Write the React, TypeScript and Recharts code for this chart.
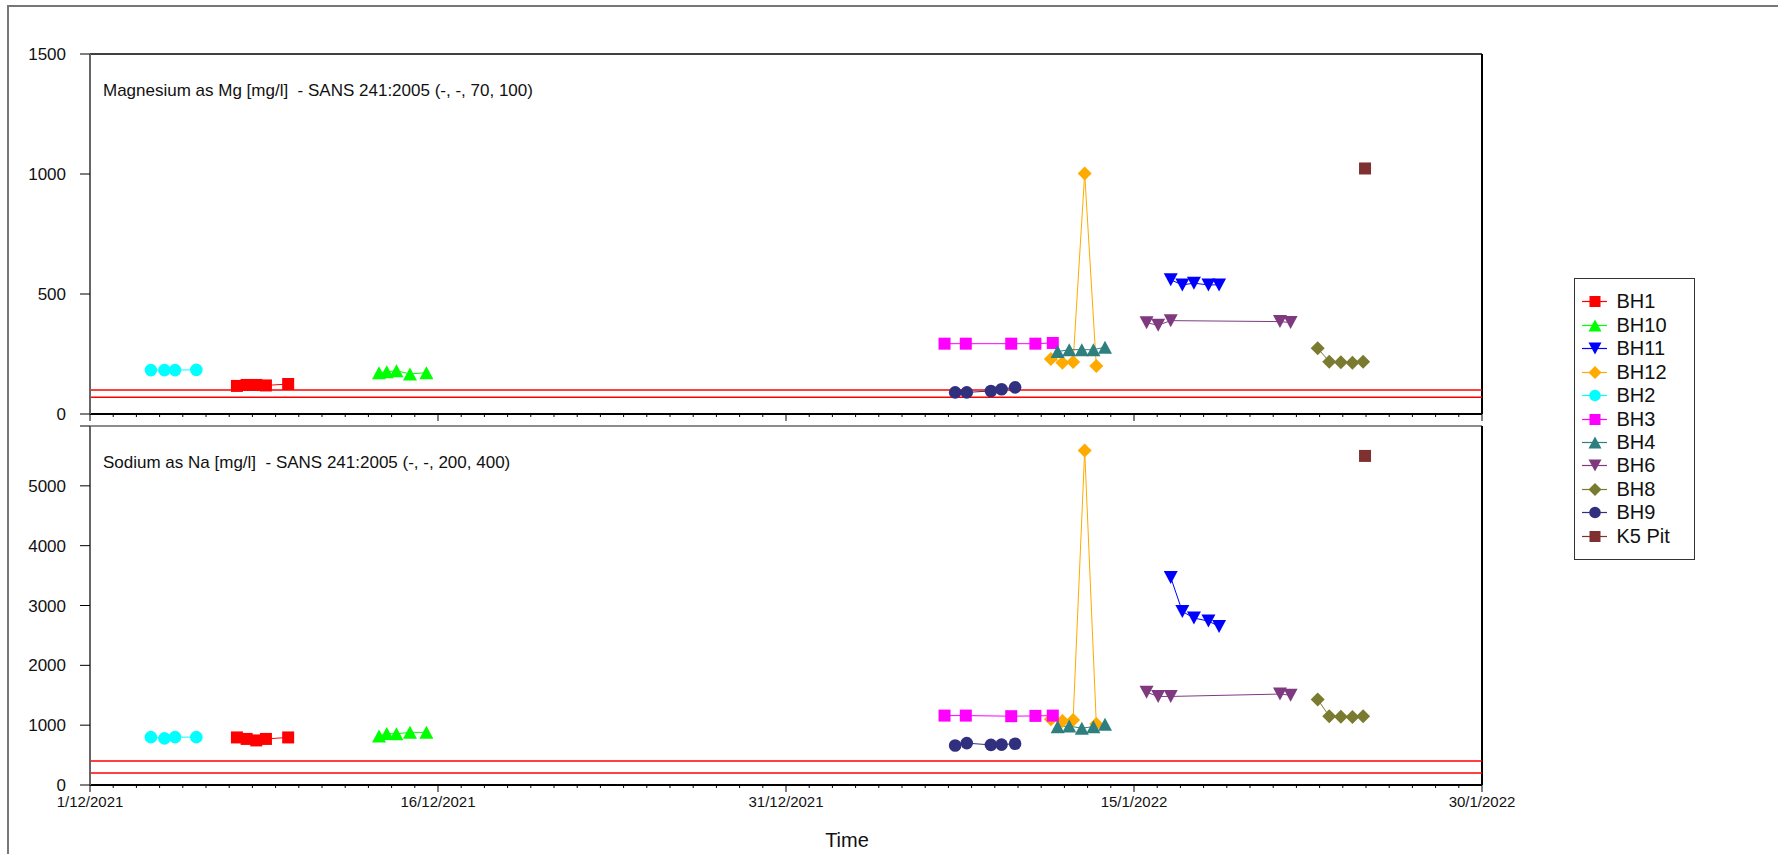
import { Line, LineChart, ReferenceLine, XAxis, YAxis } from "recharts";

// sample times (UTC) and readings per borehole
const BH1_DATES = ["2021-12-07T08:00", "2021-12-07T18:00", "2021-12-08T04:00", "2021-12-08T14:00", "2021-12-09T13:00"];
const BH1_MG = [117, 121, 121, 119, 125];
const BH1_NA = [795, 770, 745, 770, 795];

const BH10_DATES = ["2021-12-13T11:00", "2021-12-13T19:00", "2021-12-14T05:00", "2021-12-14T19:00", "2021-12-15T12:00"];
const BH10_MG = [172, 176, 180, 167, 172];
const BH10_NA = [820, 860, 855, 880, 880];

const BH11_DATES = ["2022-01-16T14:00", "2022-01-17T02:00", "2022-01-17T14:00", "2022-01-18T05:00", "2022-01-18T16:00"];
const BH11_MG = [559, 538, 545, 538, 538];
const BH11_NA = [3470, 2900, 2790, 2740, 2650];

const BH12_DATES = ["2022-01-11T10:00", "2022-01-11T22:00", "2022-01-12T09:00", "2022-01-12T21:00", "2022-01-13T09:00"];
const BH12_MG = [229, 214, 217, 1002, 200];
const BH12_NA = [1100, 1070, 1085, 5590, 1020];

const BH2_DATES = ["2021-12-03T15:00", "2021-12-04T05:00", "2021-12-04T16:00", "2021-12-05T14:00"];
const BH2_MG = [183, 183, 183, 184];
const BH2_NA = [800, 780, 800, 800];

const BH3_DATES = ["2022-01-06T20:00", "2022-01-07T18:00", "2022-01-09T17:00", "2022-01-10T18:00", "2022-01-11T12:00"];
const BH3_MG = [293, 293, 293, 293, 296];
const BH3_NA = [1160, 1160, 1150, 1155, 1160];

const BH4_DATES = ["2022-01-11T17:00", "2022-01-12T05:00", "2022-01-12T18:00", "2022-01-13T06:00", "2022-01-13T18:00"];
const BH4_MG = [260, 268, 268, 268, 278];
const BH4_NA = [975, 985, 950, 975, 1015];

const BH6_DATES = ["2022-01-15T13:00", "2022-01-16T01:00", "2022-01-16T14:00", "2022-01-21T07:00", "2022-01-21T18:00"];
const BH6_MG = [380, 370, 389, 385, 381];
const BH6_NA = [1550, 1480, 1480, 1520, 1500];

const BH8_DATES = ["2022-01-22T22:00", "2022-01-23T10:00", "2022-01-23T22:00", "2022-01-24T10:00", "2022-01-24T21:00"];
const BH8_MG = [274, 218, 216, 214, 218];
const BH8_NA = [1430, 1150, 1140, 1135, 1150];

const BH9_DATES = ["2022-01-07T07:00", "2022-01-07T19:00", "2022-01-08T20:00", "2022-01-09T07:00", "2022-01-09T21:00"];
const BH9_MG = [90, 90, 96, 103, 111];
const BH9_NA = [660, 700, 670, 675, 690];

const K5_DATES = ["2022-01-24T23:00"];
const K5_MG = [1023];
const K5_NA = [5500];

const X_TICK_DATES = ["2021-12-01T00:00", "2021-12-16T00:00", "2021-12-31T00:00", "2022-01-15T00:00", "2022-01-30T00:00"];
const X_TICK_LABELS = ["1/12/2021", "16/12/2021", "31/12/2021", "15/1/2022", "30/1/2022"];

const MG_TICKS = [0, 500, 1000, 1500];
const NA_TICKS = [0, 1000, 2000, 3000, 4000, 5000, 6000];
const MG_LIMITS = [0, 70, 100];
const NA_LIMITS = [0, 200, 400];

const MG_TITLE = "Magnesium as Mg [mg/l]  - SANS 241:2005 (-, -, 70, 100)";
const NA_TITLE = "Sodium as Na [mg/l]  - SANS 241:2005 (-, -, 200, 400)";

type Shape = "square" | "triangle" | "down" | "diamond" | "circle";

const SERIES: { name: string; color: string; shape: Shape; dates: string[]; mg: number[]; na: number[] }[] = [
  { name: "BH1", color: "#ff0000", shape: "square", dates: BH1_DATES, mg: BH1_MG, na: BH1_NA },
  { name: "BH10", color: "#00ff00", shape: "triangle", dates: BH10_DATES, mg: BH10_MG, na: BH10_NA },
  { name: "BH11", color: "#0000ff", shape: "down", dates: BH11_DATES, mg: BH11_MG, na: BH11_NA },
  { name: "BH12", color: "#ffaa00", shape: "diamond", dates: BH12_DATES, mg: BH12_MG, na: BH12_NA },
  { name: "BH2", color: "#00ffff", shape: "circle", dates: BH2_DATES, mg: BH2_MG, na: BH2_NA },
  { name: "BH3", color: "#ff00ff", shape: "square", dates: BH3_DATES, mg: BH3_MG, na: BH3_NA },
  { name: "BH4", color: "#2f7f7f", shape: "triangle", dates: BH4_DATES, mg: BH4_MG, na: BH4_NA },
  { name: "BH6", color: "#7f3a7f", shape: "down", dates: BH6_DATES, mg: BH6_MG, na: BH6_NA },
  { name: "BH8", color: "#7a7a30", shape: "diamond", dates: BH8_DATES, mg: BH8_MG, na: BH8_NA },
  { name: "BH9", color: "#30307f", shape: "circle", dates: BH9_DATES, mg: BH9_MG, na: BH9_NA },
  { name: "K5 Pit", color: "#7f3030", shape: "square", dates: K5_DATES, mg: K5_MG, na: K5_NA }
];

const toTime = (s: string) => Date.parse(s + ":00Z");
const DAY = 86400000;
const X_MIN = toTime(X_TICK_DATES[0]);
const X_MAX = toTime(X_TICK_DATES[X_TICK_DATES.length - 1]);
const DAY_TICKS: number[] = [];
for (let t = X_MIN; t <= X_MAX; t += DAY) DAY_TICKS.push(t);
const MAJOR = new Map(X_TICK_DATES.map((d, i) => [toTime(d), X_TICK_LABELS[i]]));

const FONT = "'Liberation Sans', Arial, sans-serif";

const Marker = ({ shape, x, y, color, s = 6 }: { shape: Shape; x: number; y: number; color: string; s?: number }) => {
  if (shape === "square") return <rect x={x - s} y={y - s} width={s * 2} height={s * 2} fill={color} />;
  if (shape === "circle") return <circle cx={x} cy={y} r={s + 0.3} fill={color} />;
  if (shape === "diamond")
    return <polygon points={`${x},${y - s - 1} ${x + s + 1},${y} ${x},${y + s + 1} ${x - s - 1},${y}`} fill={color} />;
  const h = s + 0.5;
  const w = s + 1;
  if (shape === "triangle") return <polygon points={`${x},${y - h} ${x + w},${y + h} ${x - w},${y + h}`} fill={color} />;
  return <polygon points={`${x},${y + h} ${x + w},${y - h} ${x - w},${y - h}`} fill={color} />;
};

const makeDot = (shape: Shape, color: string) => (props: any) => {
  const { cx, cy, index } = props;
  if (cx == null || cy == null) return <g key={index} />;
  return <Marker key={index} shape={shape} x={cx} y={cy} color={color} />;
};

const DayTick = (props: any) => {
  const { x, y, payload, showLabel } = props;
  const label = MAJOR.get(payload.value);
  return (
    <g>
      <line x1={x} x2={x} y1={y} y2={y + (label ? 7 : 3)} stroke="#000" strokeWidth={1} />
      {showLabel && label ? (
        <text x={x} y={y + 21.5} textAnchor="middle" fontSize={15} fill="#111" fontFamily={FONT}>
          {label}
        </text>
      ) : null}
    </g>
  );
};

type PanelProps = {
  top: number;
  height: number;
  marginTop: number;
  xAxisHeight: number;
  yMax: number;
  yTicks: number[];
  labelMax: number;
  limits: number[];
  field: "mg" | "na";
  showLabels: boolean;
  topStroke: string;
};

const Panel = ({ top, height, marginTop, xAxisHeight, yMax, yTicks, labelMax, limits, field, showLabels, topStroke }: PanelProps) => (
  <div style={{ position: "absolute", left: 0, top }}>
    <LineChart width={1560} height={height} margin={{ top: marginTop, right: 78, bottom: 0, left: 0 }}>
      <XAxis
        type="number"
        dataKey="t"
        domain={[X_MIN, X_MAX]}
        ticks={DAY_TICKS}
        interval={0}
        allowDataOverflow
        height={xAxisHeight}
        tickSize={0}
        tickMargin={0}
        tickLine={false}
        axisLine={{ stroke: "#000", strokeWidth: 2 }}
        tick={(p: any) => <DayTick {...p} showLabel={showLabels} />}
      />
      <YAxis
        type="number"
        domain={[0, yMax]}
        ticks={yTicks}
        interval={0}
        width={90}
        tickSize={10}
        tickMargin={14}
        axisLine={{ stroke: "#666", strokeWidth: 2 }}
        tickLine={{ stroke: "#000" }}
        tick={{ fontSize: 17, fill: "#111", fontFamily: FONT }}
        tickFormatter={(v: number) => (v > labelMax ? "" : String(v))}
      />
      <ReferenceLine y={yMax} stroke={topStroke} strokeWidth={1.5} />
      <ReferenceLine x={X_MAX} stroke="#000" strokeWidth={2} />
      {limits.map((l) => (
        <ReferenceLine key={l} y={l} stroke="#ff0000" strokeWidth={1.5} />
      ))}
      {SERIES.map((s) => (
        <Line
          key={s.name}
          data={s.dates.map((d, i) => ({ t: toTime(d), v: s[field][i] }))}
          dataKey="v"
          type="linear"
          stroke={s.color}
          strokeWidth={1}
          dot={makeDot(s.shape, s.color)}
          activeDot={false}
          isAnimationActive={false}
        />
      ))}
    </LineChart>
  </div>
);

export default function App() {
  return (
    <div
      style={{
        position: "absolute",
        left: 0,
        top: 0,
        width: 1778,
        height: 854,
        overflow: "hidden",
        background: "#fff",
        fontFamily: FONT,
        color: "#111"
      }}
    >
      <div style={{ position: "absolute", left: 7, top: 5, width: 1900, height: 1000, border: "2px solid #777" }} />
      <Panel
        top={0}
        height={440}
        marginTop={54}
        xAxisHeight={26}
        yMax={1500}
        yTicks={MG_TICKS}
        labelMax={1500}
        limits={MG_LIMITS}
        field="mg"
        showLabels={false}
        topStroke="#000"
      />
      <Panel
        top={400}
        height={454}
        marginTop={26}
        xAxisHeight={69}
        yMax={6000}
        yTicks={NA_TICKS}
        labelMax={5000}
        limits={NA_LIMITS}
        field="na"
        showLabels={true}
        topStroke="#666"
      />
      <div style={{ position: "absolute", left: 103, top: 80, fontSize: 17, lineHeight: "22px", whiteSpace: "pre" }}>{MG_TITLE}</div>
      <div style={{ position: "absolute", left: 103, top: 452, fontSize: 17, lineHeight: "22px", whiteSpace: "pre" }}>{NA_TITLE}</div>
      <div style={{ position: "absolute", left: 797, top: 827, width: 100, textAlign: "center", fontSize: 20, lineHeight: "26px" }}>Time</div>
      <div style={{ position: "absolute", left: 1574, top: 278, width: 119, height: 280, border: "1.5px solid #333" }}>
        {SERIES.map((s, i) => (
          <div
            key={s.name}
            style={{ position: "absolute", left: 6.5, top: 11.3 + i * 23.44, height: 23, display: "flex", alignItems: "center" }}
          >
            <svg width={25} height={23}>
              <line x1={0} x2={25} y1={11.5} y2={11.5} stroke={s.color} strokeWidth={1.2} />
              <Marker shape={s.shape} x={13} y={11.5} color={s.color} s={5.5} />
            </svg>
            <span style={{ fontSize: 20, marginLeft: 10, lineHeight: "23px", whiteSpace: "pre" }}>{s.name}</span>
          </div>
        ))}
      </div>
    </div>
  );
}
